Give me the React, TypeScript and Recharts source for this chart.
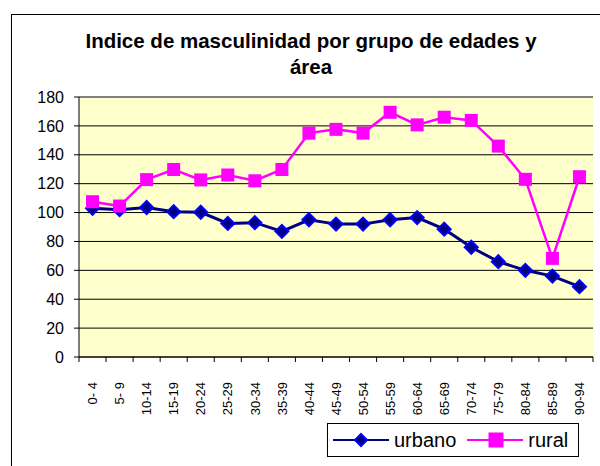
import { LineChart, Line, XAxis, YAxis, CartesianGrid, ReferenceLine } from "recharts";

const ageGroups = [
  "0- 4", "5- 9", "10-14", "15-19", "20-24", "25-29", "30-34", "35-39", "40-44", "45-49",
  "50-54", "55-59", "60-64", "65-69", "70-74", "75-79", "80-84", "85-89", "90-94",
];
const urbano = [103, 102, 103.5, 100.6, 100.2, 92.5, 93, 87, 95, 92, 92, 95, 96.5, 88.5, 76, 66, 60, 56, 48.7];
const rural = [107.5, 104.5, 122.8, 129.8, 122.6, 126, 122, 129.8, 155, 157.6, 155, 169.4, 160.7, 166, 163.8, 146, 123, 68.3, 124.8];
const yTicks = [0, 20, 40, 60, 80, 100, 120, 140, 160, 180];

const data = ageGroups.map((g, i) => ({ group: g, urbano: urbano[i], rural: rural[i] }));

const FONT = '"Liberation Sans", Arial, sans-serif';
const PLOT_W = 514;
const BAND = PLOT_W / ageGroups.length;

function Diamond(props: any) {
  const { cx, cy, size = 6.5 } = props;
  if (cx == null || cy == null) return null;
  return (
    <polygon
      points={`${cx},${cy - size} ${cx + size},${cy} ${cx},${cy + size} ${cx - size},${cy}`}
      fill="#000080"
      stroke="#0000FF"
      strokeWidth={2}
    />
  );
}

function Square(props: any) {
  const { cx, cy, size = 13 } = props;
  if (cx == null || cy == null) return null;
  return <rect x={cx - size / 2} y={cy - size / 2} width={size} height={size} fill="#FF00FF" />;
}

function AgeTick(props: any) {
  const { x, y, payload, index } = props;
  const ty = y + 25;
  return (
    <g>
      <line x1={x - BAND / 2} x2={x - BAND / 2} y1={y} y2={y + 5} stroke="#000" />
      {index === ageGroups.length - 1 && (
        <line x1={x + BAND / 2} x2={x + BAND / 2} y1={y} y2={y + 5} stroke="#000" />
      )}
      <text
        x={x}
        y={ty}
        transform={`rotate(-90, ${x}, ${ty})`}
        textAnchor="end"
        dy="0.36em"
        fontSize={13}
        fontFamily={FONT}
        fill="#000"
      >
        {payload.value}
      </text>
    </g>
  );
}

function LegendBox() {
  const text = { fontSize: 20, fontFamily: FONT, color: "#000", lineHeight: "20px" };
  return (
    <div
      style={{
        position: "absolute",
        left: 327,
        top: 423,
        width: 245,
        height: 32,
        border: "1px solid #000",
        background: "#fff",
        display: "flex",
        alignItems: "center",
        paddingLeft: 5,
      }}
    >
      <svg width={56} height={16}>
        <line x1={0} x2={56} y1={8} y2={8} stroke="#000080" strokeWidth={2} />
        <Diamond cx={28} cy={8} size={6} />
      </svg>
      <span style={{ ...text, marginLeft: 5 }}>urbano</span>
      <svg width={56} height={16} style={{ marginLeft: 11 }}>
        <line x1={0} x2={56} y1={8} y2={8} stroke="#FF00FF" strokeWidth={2} />
        <Square cx={29} cy={8} size={15} />
      </svg>
      <span style={{ ...text, marginLeft: 5 }}>rural</span>
    </div>
  );
}

export default function App() {
  return (
    <div
      style={{
        position: "fixed",
        left: 0,
        top: 0,
        width: 600,
        height: 466,
        overflow: "hidden",
        background: "#fff",
      }}
    >
      <div
        style={{
          position: "absolute",
          left: 11,
          top: 14,
          width: 700,
          height: 600,
          border: "1px solid #000",
        }}
      />
      <div
        style={{
          position: "absolute",
          left: 11,
          top: 28,
          width: 600,
          textAlign: "center",
          fontFamily: FONT,
          fontWeight: "bold",
          fontSize: 20.5,
          lineHeight: "26px",
          color: "#000",
        }}
      >
        Indice de masculinidad por grupo de edades y
        <br />
        área
      </div>
      <div style={{ position: "absolute", left: 0, top: 0 }}>
        <LineChart
          width={600}
          height={466}
          data={data}
          margin={{ top: 97, right: 7, bottom: 49, left: 0 }}
        >
          <CartesianGrid
            horizontal
            vertical={false}
            fill="#FFFFCC"
            fillOpacity={1}
            stroke="#000"
            strokeWidth={1}
          />
          <ReferenceLine y={180} stroke="#808080" strokeWidth={2} />
          <XAxis
            dataKey="group"
            interval={0}
            height={60}
            padding={{ left: BAND / 2, right: BAND / 2 }}
            axisLine={{ stroke: "#000", strokeWidth: 1 }}
            tickLine={false}
            tickSize={0}
            tickMargin={0}
            tick={<AgeTick />}
          />
          <YAxis
            width={79}
            domain={[0, 180]}
            ticks={yTicks}
            interval={0}
            axisLine={{ stroke: "#000", strokeWidth: 1 }}
            tickLine={{ stroke: "#000" }}
            tickSize={5}
            tickMargin={10}
            tick={{ fontSize: 16, fontFamily: FONT, fill: "#000" }}
          />
          <YAxis
            yAxisId="frame"
            orientation="right"
            width={0}
            domain={[0, 180]}
            tick={false}
            tickLine={false}
            axisLine={{ stroke: "#808080", strokeWidth: 2 }}
          />
          <Line
            type="linear"
            dataKey="urbano"
            stroke="#000080"
            strokeWidth={3}
            dot={<Diamond />}
            activeDot={false}
            isAnimationActive={false}
          />
          <Line
            type="linear"
            dataKey="rural"
            stroke="#FF00FF"
            strokeWidth={2.5}
            dot={<Square />}
            activeDot={false}
            isAnimationActive={false}
          />
        </LineChart>
      </div>
      <LegendBox />
    </div>
  );
}
